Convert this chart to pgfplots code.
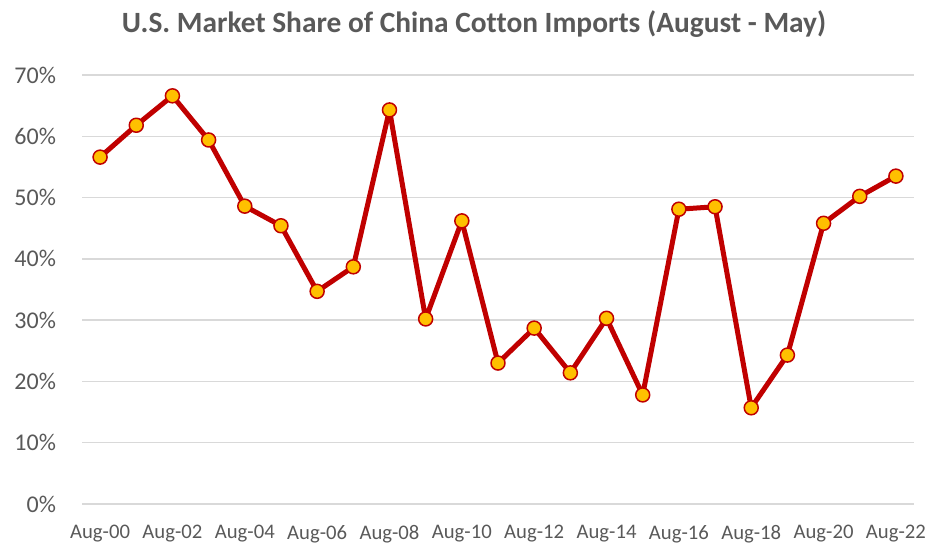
\documentclass[border=0pt]{standalone}
\usepackage{pgfplots}
\pgfplotsset{compat=1.18}
\usepackage{fontspec}
\setmainfont{Carlito}[Ligatures=NoCommon]
\definecolor{linered}{HTML}{C00000}
\definecolor{markfill}{HTML}{FFC000}
\definecolor{gridgray}{HTML}{D9D9D9}
\definecolor{textgray}{HTML}{595959}
\pgfplotstableread{
x y
0 56.6
1 61.8
2 66.6
3 59.4
4 48.6
5 45.4
6 34.7
7 38.7
8 64.3
9 30.2
10 46.2
11 23.0
12 28.7
13 21.4
14 30.3
15 17.8
16 48.1
17 48.5
18 15.7
19 24.3
20 45.8
21 50.2
22 53.5
}\datatable
\begin{document}
\begin{tikzpicture}[x=1pt,y=1pt]
\useasboundingbox (0,0) rectangle (928,544);
\begin{axis}[
  at={(82pt,40pt)}, anchor=south west,
  scale only axis, width=832pt, height=429pt,
  xmin=-0.5, xmax=22.5, ymin=0, ymax=70,
  axis line style={draw=none},
  xtick={0,2,...,22},
  xticklabels={Aug-00,Aug-02,Aug-04,Aug-06,Aug-08,Aug-10,Aug-12,Aug-14,Aug-16,Aug-18,Aug-20,Aug-22},
  ytick={0,10,...,70},
  yticklabel={\pgfmathprintnumber{\tick}\%},
  /pgf/number format/assume math mode=true,
  major tick length=0pt,
  ymajorgrids, grid style={gridgray, line width=1.5pt},
  tick label style={text=textgray},
  yticklabel style={font=\fontsize{24}{28}\selectfont, xshift=-22.5pt},
  xticklabel style={font=\fontsize{20.7}{24}\selectfont, yshift=-17.5pt},
  clip=false,
]
\addplot[linered, line width=5pt, line join=round,
  mark=*, mark size=7pt,
  mark options={fill=markfill, draw=linered, line width=1.5pt}]
  table[x=x,y=y]{\datatable};
\end{axis}
\node[text=textgray, font=\bfseries\fontsize{29.4}{34}\selectfont] at (474,520) {U.S. Market Share of China Cotton Imports (August - May)};
\end{tikzpicture}
\end{document}
